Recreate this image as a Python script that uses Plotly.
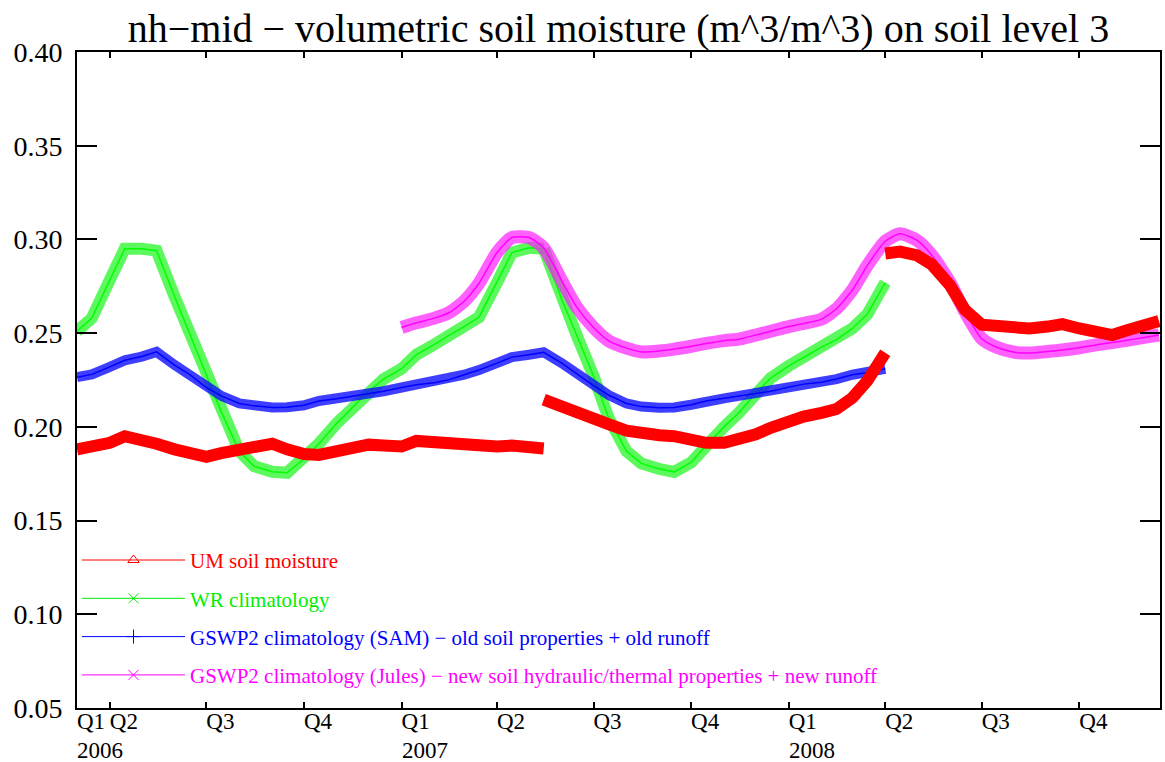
import plotly.graph_objects as go

# ---------------- data ----------------
dates_run1 = ["2006-03-01", "2006-03-15", "2006-04-01", "2006-04-15", "2006-05-01", "2006-05-15",
              "2006-06-01", "2006-06-15", "2006-07-01", "2006-07-15", "2006-08-01", "2006-08-15",
              "2006-09-01", "2006-09-15", "2006-10-01", "2006-10-15", "2006-11-01", "2006-11-15",
              "2006-12-01", "2006-12-15", "2007-01-01", "2007-01-15", "2007-02-01", "2007-02-15",
              "2007-03-01", "2007-03-15", "2007-04-01", "2007-04-15", "2007-05-01", "2007-05-15"]
dates_run2 = ["2007-05-15", "2007-06-01", "2007-06-15", "2007-07-01", "2007-07-15", "2007-08-01",
              "2007-08-15", "2007-09-01", "2007-09-15", "2007-10-01", "2007-10-15", "2007-11-01",
              "2007-11-15", "2007-12-01", "2007-12-15", "2008-01-01", "2008-01-15", "2008-02-01",
              "2008-02-15", "2008-03-01", "2008-03-15", "2008-04-01"]
dates_run3 = ["2008-04-01", "2008-04-15", "2008-05-01", "2008-05-15", "2008-06-01", "2008-06-15",
              "2008-07-01", "2008-07-15", "2008-08-01", "2008-08-15", "2008-09-01", "2008-09-15",
              "2008-10-01", "2008-10-15", "2008-11-01", "2008-11-15", "2008-12-01", "2008-12-15"]

um_run1 = [0.188, 0.189, 0.1915, 0.195, 0.192, 0.191, 0.188, 0.1865, 0.184, 0.186, 0.1875, 0.189,
           0.191, 0.188, 0.1855, 0.185, 0.187, 0.190, 0.1905, 0.190, 0.1895, 0.1925, 0.1915, 0.1915,
           0.191, 0.1905, 0.1895, 0.190, 0.189, 0.1885]
um_run2 = [0.2145, 0.2105, 0.207, 0.2035, 0.2015, 0.198, 0.1965, 0.1955, 0.195, 0.193, 0.1915, 0.1915,
           0.193, 0.196, 0.1995, 0.203, 0.2055, 0.2075, 0.2095, 0.2155, 0.2245, 0.2395]
um_run3 = [0.2925, 0.2935, 0.2915, 0.2865, 0.2755, 0.2625, 0.2545, 0.2535, 0.2525, 0.2525, 0.2535, 0.2548,
           0.2525, 0.2505, 0.249, 0.2515, 0.2535, 0.2565]

wr_run1 = [0.251, 0.258, 0.2785, 0.295, 0.295, 0.294, 0.2695, 0.250, 0.227, 0.208, 0.187, 0.179,
           0.176, 0.1755, 0.183, 0.191, 0.202, 0.210, 0.219, 0.2255, 0.231, 0.2385, 0.244, 0.249,
           0.2535, 0.2585, 0.277, 0.293, 0.2955, 0.295]
wr_run2 = [0.295, 0.268, 0.249, 0.227, 0.205, 0.187, 0.1805, 0.1775, 0.176, 0.181, 0.190, 0.200,
           0.2075, 0.218, 0.226, 0.2325, 0.237, 0.2425, 0.2465, 0.2525, 0.260, 0.277]

sam_dates = dates_run1 + dates_run2[1:]
sam_vals = [0.2265, 0.228, 0.232, 0.2355, 0.2375, 0.240, 0.233, 0.228, 0.221, 0.2165, 0.2125, 0.2112,
            0.2103, 0.2105, 0.2115, 0.2138, 0.215, 0.2162, 0.2178, 0.219, 0.221, 0.2225, 0.2235, 0.2252,
            0.2278, 0.2303, 0.234, 0.2372, 0.2385, 0.2398,
            0.234, 0.2285, 0.222, 0.217, 0.2125, 0.2108, 0.2102, 0.2103, 0.2118, 0.2138, 0.2152, 0.2165,
            0.218, 0.219, 0.2212, 0.2228, 0.2238, 0.2255, 0.2278, 0.229, 0.231]

jules_dates = dates_run1[20:] + dates_run2[1:] + dates_run3[1:]
jules_vals = [0.253, 0.2555, 0.258, 0.261, 0.267, 0.2766, 0.293, 0.301, 0.301, 0.2955,
              0.278, 0.264, 0.253, 0.246, 0.242, 0.240, 0.2405, 0.2415, 0.243, 0.2445, 0.246, 0.2468,
              0.249, 0.251, 0.2535, 0.2552, 0.2575, 0.263, 0.273, 0.286, 0.299,
              0.303, 0.2995, 0.2915, 0.277, 0.2615, 0.247, 0.2425, 0.2398, 0.2394, 0.2402, 0.241,
              0.2422, 0.2436, 0.245, 0.2462, 0.2477, 0.249]

quarter_ticks = ["2006-03-01", "2006-04-01", "2006-07-01", "2006-10-01",
                 "2007-01-01", "2007-04-01", "2007-07-01", "2007-10-01",
                 "2008-01-01", "2008-04-01", "2008-07-01", "2008-10-01"]
quarter_labels = ["Q1", "Q2", "Q3", "Q4", "Q1", "Q2", "Q3", "Q4", "Q1", "Q2", "Q3", "Q4"]
year_ticks = ["2007-01-01", "2008-01-01"]
year_label_pos = ["2006-03-01", "2007-01-01", "2008-01-01"]
year_labels = ["2006", "2007", "2008"]
y_ticks = [0.05, 0.10, 0.15, 0.20, 0.25, 0.30, 0.35, 0.40]

names = ["UM soil moisture",
         "WR climatology",
         "GSWP2 climatology (SAM) \u2212 old soil properties + old runoff",
         "GSWP2 climatology (Jules) \u2212 new soil hydraulic/thermal properties + new runoff"]
colors = ["#ff0000", "#00ee00", "#0000ff", "#ff00ff"]
symbols = ["triangle-up-open", "x-thin-open", "cross-thin-open", "x-thin-open"]

SERIF = "Liberation Serif, Times New Roman, serif"

fig = go.Figure()

# WR climatology (green)
for d, v in [(dates_run1, wr_run1), (dates_run2, wr_run2)]:
    fig.add_trace(go.Scatter(x=d, y=v, mode="lines", showlegend=False, hoverinfo="skip",
                             line=dict(color="rgba(30,245,30,0.72)", width=12)))
    fig.add_trace(go.Scatter(x=d, y=v, mode="lines", showlegend=False,
                             line=dict(color="#00ff00", width=1.5)))

# GSWP2 SAM (blue)
fig.add_trace(go.Scatter(x=sam_dates, y=sam_vals, mode="lines", showlegend=False, hoverinfo="skip",
                         line=dict(color="rgba(20,20,255,0.82)", width=10)))
fig.add_trace(go.Scatter(x=sam_dates, y=sam_vals, mode="lines", showlegend=False,
                         line=dict(color="#0000ff", width=1.5)))

# GSWP2 Jules (magenta)
fig.add_trace(go.Scatter(x=jules_dates, y=jules_vals, mode="lines", showlegend=False, hoverinfo="skip",
                         line=dict(color="rgba(255,30,255,0.7)", width=13, shape="spline", smoothing=0.6)))
fig.add_trace(go.Scatter(x=jules_dates, y=jules_vals, mode="lines", showlegend=False,
                         line=dict(color="#ff00ff", width=1.5, shape="spline", smoothing=0.6)))

# UM soil moisture (red)
for d, v in [(dates_run1, um_run1), (dates_run2, um_run2), (dates_run3, um_run3)]:
    fig.add_trace(go.Scatter(x=d, y=v, mode="lines", showlegend=False,
                             line=dict(color="#ff0000", width=12)))

# legend entries
for i, (n, c, s) in enumerate(zip(names, colors, symbols)):
    fig.add_trace(go.Scatter(x=[None], y=[None], mode="lines+markers",
                             name=f'<span style="color:{c}">{n}</span>',
                             legendgroup=f"g{i}",
                             line=dict(color=c, width=1),
                             marker=dict(symbol=s, size=10, color=c, line=dict(color=c, width=1))))

axis_common = dict(showgrid=False, zeroline=False, ticks="inside", tickcolor="black",
                   tickwidth=2, showline=True, linecolor="black", linewidth=2, mirror="ticks")

fig.update_layout(
    width=1165, height=762,
    margin=dict(l=77, r=3, t=52, b=54),
    paper_bgcolor="white", plot_bgcolor="white",
    title=dict(text="nh\u2212mid \u2212 volumetric soil moisture (m^3/m^3) on soil level 3",
               x=0.5, xref="paper", y=1 - 28 / 762, yref="container", yanchor="middle",
               font=dict(family=SERIF, size=40, color="black")),
    xaxis=dict(type="date", range=["2006-03-01", "2008-12-16"],
               tickmode="array", tickvals=quarter_ticks, ticktext=quarter_labels,
               ticklen=6, ticklabelshift=14, ticklabelstandoff=-9,
               tickfont=dict(family=SERIF, size=23, color="black"), **axis_common),
    xaxis2=dict(type="date", range=["2006-03-01", "2008-12-16"], overlaying="x", anchor="y",
                side="bottom", tickmode="array", tickvals=year_ticks, showticklabels=False,
                ticks="inside", ticklen=14, tickwidth=2, tickcolor="black", mirror="ticks",
                showline=False, showgrid=False, zeroline=False),
    yaxis=dict(range=[0.05, 0.40], tickmode="array", tickvals=y_ticks, tickformat=".2f",
               ticklen=20, ticklabelstandoff=7,
               tickfont=dict(family=SERIF, size=28, color="black"), **axis_common),
    legend=dict(x=0, xanchor="left", y=(708.3 - 540) / 656.6, yanchor="top",
                bgcolor="rgba(0,0,0,0)", itemwidth=103, tracegroupgap=8,
                font=dict(family=SERIF, size=21), traceorder="grouped"),
    showlegend=True,
)

for pos, lab in zip(year_label_pos, year_labels):
    fig.add_annotation(x=pos, y=-(736 - 708.3) / 656.6, xref="x", yref="paper",
                       text=lab, showarrow=False, xanchor="left", yanchor="top",
                       xshift=-2, font=dict(family=SERIF, size=23, color="black"))

fig.write_html("out.html")
